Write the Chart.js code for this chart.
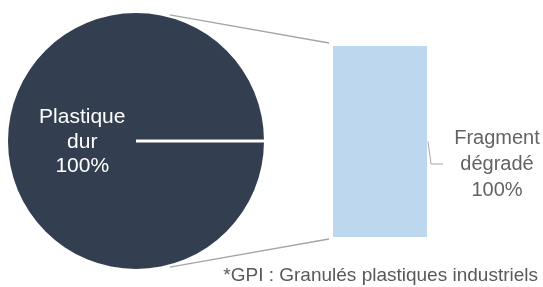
<!DOCTYPE html>
<html><head><meta charset="utf-8">
<script src="https://cdn.jsdelivr.net/npm/chart.js@4/dist/chart.umd.min.js"></script>
<style>
html,body{margin:0;padding:0;background:#fff}
#wrap{position:relative;width:543px;height:287px}
canvas{position:absolute;left:0;top:0}
</style>
</head><body>
<div id="wrap"><canvas id="pie" width="543" height="287"></canvas><canvas id="bar" width="543" height="287"></canvas></div>
<script>
// ---- data ----
const pieLabels = ['Plastique dur'];
const pieValues = [100];
const barLabels = ['Fragment dégradé'];
const barValues = [100];
const footnote = '*GPI : Granulés plastiques industriels';

const FONT = '"Liberation Sans", Arial, sans-serif';
Chart.defaults.font.family = FONT;

function pct(v, arr) { const t = arr.reduce((a, b) => a + b, 0); return Math.round(v / t * 100) + '%'; }

const pieDecor = {
  id: 'pieDecor',
  afterDatasetsDraw(chart) {
    const ctx = chart.ctx;
    const meta = chart.getDatasetMeta(0);
    meta.data.forEach((arc, i) => {
      const p = arc.getProps(['x', 'y', 'outerRadius', 'startAngle', 'endAngle']);
      ctx.save();
      ctx.strokeStyle = '#ffffff';
      ctx.lineWidth = 3;
      ctx.beginPath();
      ctx.moveTo(p.x, p.y);
      ctx.lineTo(p.x + p.outerRadius * Math.cos(p.startAngle), p.y + p.outerRadius * Math.sin(p.startAngle));
      ctx.stroke();
      const mid = (p.startAngle + p.endAngle) / 2;
      const lx = p.x + p.outerRadius * 0.42 * Math.cos(mid);
      const ly = p.y + p.outerRadius * 0.42 * Math.sin(mid) + 1;
      const lines = pieLabels[i].split(' ').concat([pct(pieValues[i], pieValues)]);
      ctx.fillStyle = '#ffffff';
      ctx.font = '21px ' + FONT;
      ctx.textAlign = 'center';
      ctx.textBaseline = 'middle';
      const lh = 24.5;
      lines.forEach((t, k) => ctx.fillText(t, lx, ly + (k - (lines.length - 1) / 2) * lh));
      ctx.restore();
    });
  }
};

const pieChart = new Chart(document.getElementById('pie'), {
  type: 'pie',
  data: { labels: pieLabels, datasets: [{ data: pieValues, backgroundColor: ['#333F50'], borderWidth: 0 }] },
  options: {
    responsive: false, animation: false, devicePixelRatio: 1,
    rotation: 90,
    layout: { padding: { left: 8, right: 279, top: 13, bottom: 18 } },
    plugins: { legend: { display: false }, tooltip: { enabled: false } }
  },
  plugins: [pieDecor]
});

const barDecor = {
  id: 'barDecor',
  afterDatasetsDraw(chart) {
    const ctx = chart.ctx;
    const bar = chart.getDatasetMeta(0).data[0].getProps(['x', 'y', 'base', 'width']);
    const left = bar.x - bar.width / 2, right = bar.x + bar.width / 2;
    const top = Math.min(bar.y, bar.base), bottom = Math.max(bar.y, bar.base);
    // connectors from pie
    const arc = pieChart.getDatasetMeta(0).data[0].getProps(['x', 'y', 'outerRadius', 'startAngle']);
    const ang = 75 * Math.PI / 180;
    const r = arc.outerRadius + 2.5;
    ctx.save();
    ctx.strokeStyle = '#A6A6A6';
    ctx.lineWidth = 1.3;
    ctx.beginPath();
    ctx.moveTo(arc.x + r * Math.cos(arc.startAngle - ang), arc.y + r * Math.sin(arc.startAngle - ang));
    ctx.lineTo(left - 4, top - 3);
    ctx.moveTo(arc.x + r * Math.cos(arc.startAngle + ang), arc.y + r * Math.sin(arc.startAngle + ang));
    ctx.lineTo(left - 4, bottom + 2);
    ctx.stroke();
    // bar label with leader
    const cy = (top + bottom) / 2;
    const lx = right + 70, ly = cy + 22.5;
    ctx.beginPath();
    ctx.moveTo(right + 1, cy);
    ctx.lineTo(right + 4, ly);
    ctx.lineTo(right + 16, ly);
    ctx.lineWidth = 1;
    ctx.stroke();
    const lines = barLabels[0].split(' ').concat([pct(barValues[0], barValues)]);
    ctx.fillStyle = '#636363';
    ctx.font = '20px ' + FONT;
    ctx.textAlign = 'center';
    ctx.textBaseline = 'middle';
    const lh = 26;
    lines.forEach((t, k) => ctx.fillText(t, lx, ly + (k - (lines.length - 1) / 2) * lh));
    // footnote
    ctx.font = '19px ' + FONT;
    ctx.fillStyle = '#595959';
    ctx.textAlign = 'right';
    ctx.textBaseline = 'alphabetic';
    ctx.fillText(footnote, chart.width - 5, chart.height - 6);
    ctx.restore();
  }
};

new Chart(document.getElementById('bar'), {
  type: 'bar',
  data: { labels: barLabels, datasets: [{ data: barValues, backgroundColor: '#BDD7EE', borderWidth: 0, barPercentage: 1, categoryPercentage: 1 }] },
  options: {
    responsive: false, animation: false, devicePixelRatio: 1,
    layout: { padding: { left: 333, right: 116, top: 46, bottom: 50 } },
    scales: {
      x: { display: false },
      y: { display: false, min: 0, max: 100 }
    },
    plugins: { legend: { display: false }, tooltip: { enabled: false } }
  },
  plugins: [barDecor]
});
</script>
</body></html>
